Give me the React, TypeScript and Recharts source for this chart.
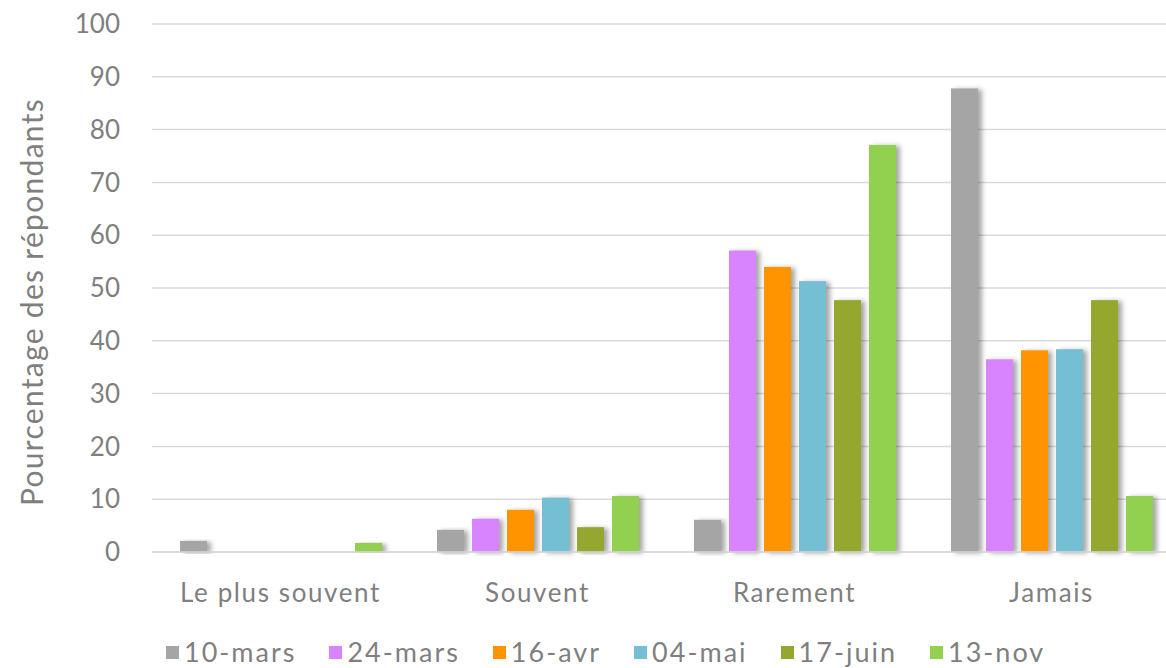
import React from 'react';
import { BarChart, Bar, XAxis, YAxis, CartesianGrid, Legend } from 'recharts';

const categories = ['Le plus souvent', 'Souvent', 'Rarement', 'Jamais'];
const seriesNames = ['10-mars', '24-mars', '16-avr', '04-mai', '17-juin', '13-nov'];
const s10mars = [2.1, 4.2, 6.1, 87.8];
const s24mars = [0, 6.3, 57.1, 36.5];
const s16avr = [0, 8.0, 54.0, 38.2];
const s04mai = [0, 10.3, 51.3, 38.4];
const s17juin = [0, 4.7, 47.7, 47.7];
const s13nov = [1.7, 10.6, 77.1, 10.6];
const yTicks = [0, 10, 20, 30, 40, 50, 60, 70, 80, 90, 100];
const colors = ['#A5A5A5', '#D883FF', '#FF9300', '#75BFD5', '#95A72E', '#92D050'];
const allSeries = [s10mars, s24mars, s16avr, s04mai, s17juin, s13nov];

const data = categories.map((c, i) => {
  const row: Record<string, string | number> = { name: c };
  seriesNames.forEach((s, j) => {
    row[s] = allSeries[j][i];
  });
  return row;
});

const FONT = 'Lato, "Noto Sans", sans-serif';
const TEXT = '#7F7F7F';

const ShadowBar = (props: any) => {
  const { x, y, width, height, fill } = props;
  if (!height || height <= 0) return <g />;
  return <rect x={x} y={y} width={width} height={height} fill={fill} filter="url(#barShadow)" />;
};

const YTitle = (props: any) => {
  const vb = props.viewBox || {};
  const cx = 31;
  const cy = (vb.y || 24) + (vb.height || 528) / 2 + 14;
  return (
    <text
      x={cx}
      y={cy}
      transform={`rotate(-90 ${cx} ${cy})`}
      textAnchor="middle"
      dominantBaseline="central"
      fill={TEXT}
      fontSize={30}
      letterSpacing={1.3}
      fontFamily={FONT}
    >
      Pourcentage des répondants
    </text>
  );
};

const LegendContent = () => (
  <div
    style={{
      display: 'flex',
      alignItems: 'center',
      paddingLeft: 166,
      paddingTop: 25,
      fontFamily: FONT,
      fontSize: 27,
      color: TEXT,
      letterSpacing: 2,
      lineHeight: '30px',
      whiteSpace: 'nowrap',
    }}
  >
    {seriesNames.map((s, i) => (
      <div key={s} style={{ display: 'flex', alignItems: 'center', marginRight: 33 }}>
        <span style={{ display: 'inline-block', width: 13, height: 13, background: colors[i], marginRight: 5 }} />
        <span>{s}</span>
      </div>
    ))}
  </div>
);

export default function App() {
  return (
    <div style={{ position: 'absolute', left: 0, top: 0, width: 1166, height: 668, overflow: 'hidden', background: '#fff' }}>
      <svg width={0} height={0} style={{ position: 'absolute' }}>
        <defs>
          <filter id="barShadow" x="-40%" y="-10%" width="180%" height="120%">
            <feDropShadow dx={4} dy={1} stdDeviation={2.5} floodColor="#000" floodOpacity={0.35} />
          </filter>
        </defs>
      </svg>
      <BarChart
        width={1180}
        height={668}
        data={data}
        margin={{ top: 24, right: 0, bottom: 0, left: 0 }}
        barCategoryGap={28}
        barGap={8}
      >
        <CartesianGrid vertical={false} stroke="#D9D9D9" strokeWidth={1.5} />
        <XAxis
          dataKey="name"
          height={60}
          tickLine={false}
          axisLine={{ stroke: '#D9D9D9', strokeWidth: 1.5 }}
          tickSize={0}
          tickMargin={32}
          tick={{ fill: TEXT, fontSize: 26, fontFamily: FONT, letterSpacing: 1.6 }}
          interval={0}
        />
        <YAxis
          width={152}
          domain={[0, 100]}
          ticks={yTicks}
          tickLine={false}
          axisLine={false}
          tickSize={0}
          tickMargin={32}
          tick={{ fill: TEXT, fontSize: 26, fontFamily: FONT }}
          label={<YTitle />}
        />
        <Legend verticalAlign="bottom" height={56} content={<LegendContent />} />
        {seriesNames.map((s, i) => (
          <Bar key={s} dataKey={s} fill={colors[i]} isAnimationActive={false} shape={<ShadowBar />} />
        ))}
      </BarChart>
    </div>
  );
}
